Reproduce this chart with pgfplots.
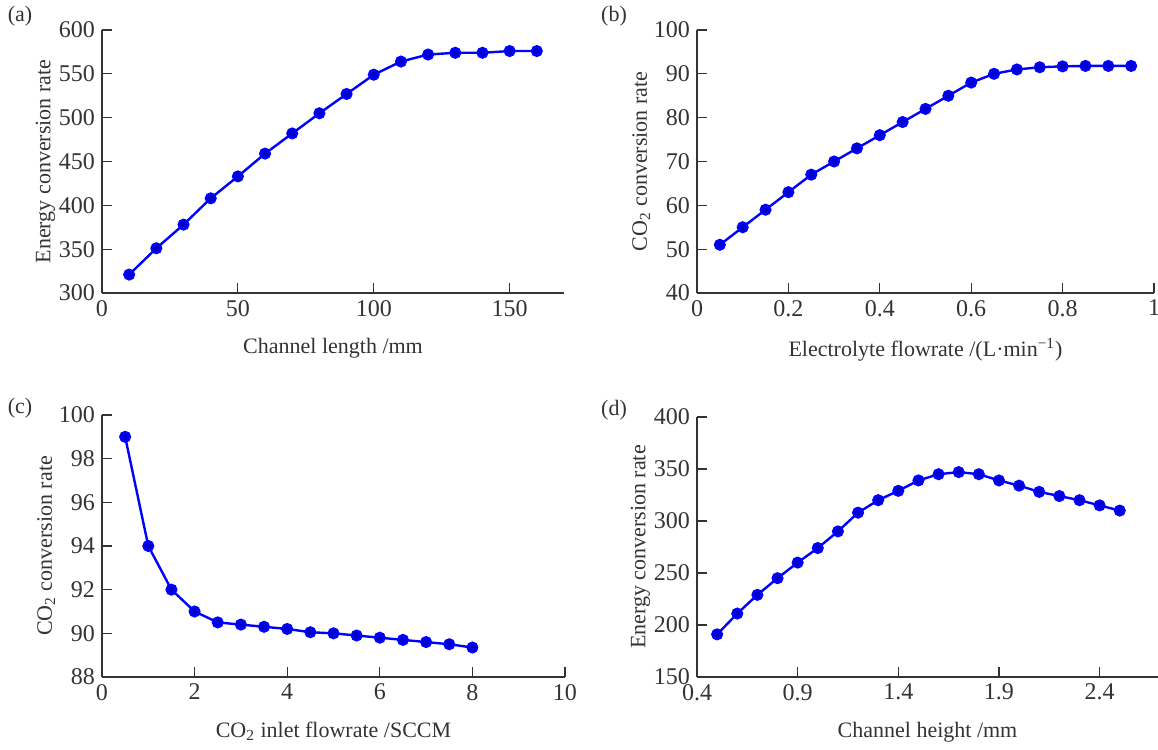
\documentclass[border=0pt]{standalone}
\usepackage{fontspec}
\setmainfont{Liberation Serif}
\usepackage{pgfplots}
\pgfplotsset{compat=1.18}

\definecolor{axgray}{HTML}{333333}
\definecolor{lineblue}{RGB}{0,0,255}

\pgfplotsset{
    panel/.style={
        scale only axis,
        anchor=south west,
        axis x line*=bottom,
        axis y line*=left,
        axis line style={axgray, line width=0.6pt},
        tick align=inside,
        tick style={axgray, line width=0.6pt},
        major tick length=5pt,
        enlargelimits=false,
        clip=false,
        font=\fontsize{11}{13}\selectfont,
        tick label style={text=axgray, font=\fontsize{12}{14}\selectfont},
        label style={text=axgray},
        xlabel shift=4pt,
        ylabel shift=-5pt,
        /pgf/number format/assume math mode=true,
        xticklabel={\pgfmathprintnumber{\tick}},
        yticklabel={\pgfmathprintnumber{\tick}},
        every axis plot/.append style={lineblue, line width=1.2pt, mark=*, mark size=2.4pt, mark options={solid, fill=lineblue}},
    },
}

\begin{document}
\begin{tikzpicture}
\useasboundingbox (0,0) rectangle (579pt,375pt);

% (a)
\begin{axis}[panel, at={(51pt,228.5pt)}, width=231pt, height=131.5pt,
    xmin=0, xmax=170, ymin=300, ymax=600,
    xtick={0,50,100,150}, ytick={300,350,...,600},
    xlabel={Channel length /mm}, ylabel={Energy conversion rate}]
\addplot coordinates {(10,321) (20,351) (30,378) (40,408) (50,433) (60,459) (70,482) (80,505)
    (90,527) (100,549) (110,564) (120,572) (130,574) (140,574) (150,576) (160,576)};
\end{axis}

% (b)
\begin{axis}[panel, at={(348.5pt,228.5pt)}, width=228.5pt, height=131.5pt,
    xmin=0, xmax=1, ymin=40, ymax=100,
    xtick={0,0.2,0.4,0.6,0.8,1}, ytick={40,50,...,100},
    xlabel={Electrolyte flowrate /(L·min\textsuperscript{−1})}, ylabel={CO\textsubscript{2} conversion rate}]
\addplot coordinates {(0.05,51) (0.10,55) (0.15,59) (0.20,63) (0.25,67) (0.30,70) (0.35,73)
    (0.40,76) (0.45,79) (0.50,82) (0.55,85) (0.60,88) (0.65,90) (0.70,91) (0.75,91.5)
    (0.80,91.7) (0.85,91.8) (0.90,91.8) (0.95,91.8)};
\end{axis}

% (c)
\begin{axis}[panel, at={(51pt,36.5pt)}, width=231.5pt, height=131pt,
    xmin=0, xmax=10, ymin=88, ymax=100,
    xtick={0,2,...,10}, ytick={88,90,...,100},
    xlabel={CO\textsubscript{2} inlet flowrate /SCCM}, ylabel={CO\textsubscript{2} conversion rate}]
\addplot coordinates {(0.5,99) (1.0,94) (1.5,92) (2.0,91) (2.5,90.5) (3.0,90.4) (3.5,90.3)
    (4.0,90.2) (4.5,90.05) (5.0,90.0) (5.5,89.9) (6.0,89.8) (6.5,89.7) (7.0,89.6)
    (7.5,89.5) (8.0,89.35)};
\end{axis}

% (d)
\begin{axis}[panel, at={(348.5pt,36.5pt)}, width=230.5pt, height=130pt,
    xmin=0.4, xmax=2.69, ymin=150, ymax=400,
    xtick={0.4,0.9,1.4,1.9,2.4}, ytick={150,200,...,400},
    xticklabel style={/pgf/number format/.cd, fixed, fixed zerofill, precision=1},
    xlabel={Channel height /mm}, ylabel={Energy conversion rate}]
\addplot coordinates {(0.5,191) (0.6,211) (0.7,229) (0.8,245) (0.9,260) (1.0,274) (1.1,290)
    (1.2,308) (1.3,320) (1.4,329) (1.5,339) (1.6,345) (1.7,347) (1.8,345) (1.9,339)
    (2.0,334) (2.1,328) (2.2,324) (2.3,320) (2.4,315) (2.5,310)};
\end{axis}

\node[text=axgray, font=\fontsize{11}{13}\selectfont] at (10pt,367pt) {(a)};
\node[text=axgray, font=\fontsize{11}{13}\selectfont] at (307pt,367pt) {(b)};
\node[text=axgray, font=\fontsize{11}{13}\selectfont] at (10pt,171pt) {(c)};
\node[text=axgray, font=\fontsize{11}{13}\selectfont] at (307pt,170pt) {(d)};
\end{tikzpicture}
\end{document}
